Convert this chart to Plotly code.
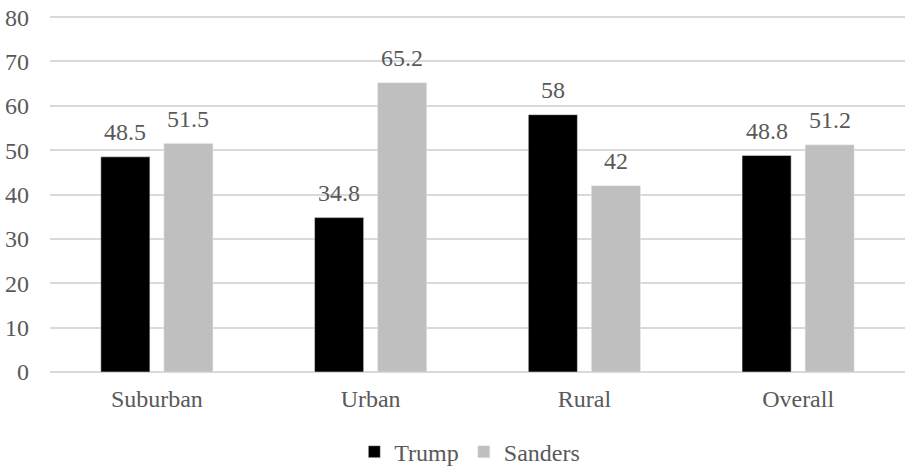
import plotly.graph_objects as go

categories = ["Suburban", "Urban", "Rural", "Overall"]
trump = [48.5, 34.8, 58, 48.8]
sanders = [51.5, 65.2, 42, 51.2]
y_ticks = [0, 10, 20, 30, 40, 50, 60, 70, 80]

font_family = "'Times New Roman', 'Liberation Serif', Times, serif"
txt_color = "#595959"
fs = 24

fig = go.Figure()
fig.add_trace(go.Bar(name="Trump", x=categories, y=trump, marker_color="#000000"))
fig.add_trace(go.Bar(name="Sanders", x=categories, y=sanders, marker_color="#bfbfbf"))

# value labels placed at the data values, nudged sideways onto each bar of the group
for series, dx in ((trump, -31.5), (sanders, 31.5)):
    for cat, v in zip(categories, series):
        fig.add_annotation(x=cat, y=v, xref="x", yref="y", text=f"{v:g}",
                           showarrow=False, xshift=dx, yshift=10, yanchor="bottom",
                           font=dict(size=fs, color=txt_color, family=font_family))

fig.update_layout(
    width=912, height=466,
    margin=dict(l=50, r=7, t=16, b=94, autoexpand=False),
    barmode="group", bargap=0.41, bargroupgap=0.222,
    plot_bgcolor="white", paper_bgcolor="white",
    font=dict(family=font_family, size=fs, color=txt_color),
    legend=dict(orientation="h", x=0.491, xanchor="center", y=-0.225, yanchor="middle",
                font=dict(size=fs, color=txt_color, family=font_family),
                itemwidth=30, tracegroupgap=0),
    yaxis=dict(range=[0, 80.25], tickmode="array", tickvals=y_ticks,
               showgrid=True, gridcolor="#d9d9d9",
               gridwidth=1.5, zeroline=True, zerolinecolor="#d9d9d9", zerolinewidth=1.5,
               tickfont=dict(size=fs, family=font_family), ticks="",
               ticklabelstandoff=20, automargin=False, ticklabeloverflow="allow"),
    xaxis=dict(showline=False, ticks="", tickfont=dict(size=fs, family=font_family),
               automargin=False, ticklabelstandoff=10),
)

fig.write_html("out.html", config={"displayModeBar": False},
               post_script="document.body.style.margin='0px';document.body.style.overflow='hidden';")
